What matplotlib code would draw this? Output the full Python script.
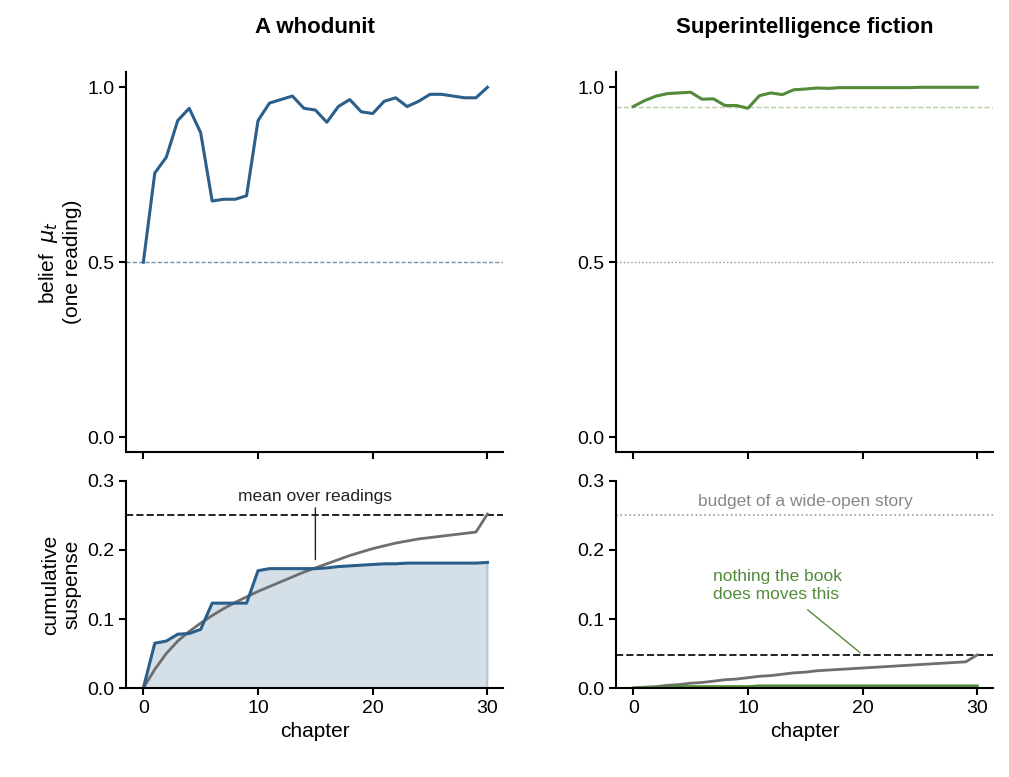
import matplotlib
matplotlib.use("Agg")
import matplotlib.pyplot as plt
import numpy as np

plt.rcParams['font.family'] = ['Liberation Sans', 'DejaVu Sans']
plt.rcParams['mathtext.fontset'] = 'dejavusans'

chapters = np.arange(31)
belief_who = [0.5, 0.755, 0.80, 0.905, 0.94, 0.87, 0.675, 0.68, 0.68, 0.69, 0.905,
              0.955, 0.965, 0.975, 0.94, 0.935, 0.90, 0.945, 0.965, 0.93, 0.925,
              0.96, 0.97, 0.945, 0.96, 0.98, 0.98, 0.975, 0.97, 0.97, 1.0]
belief_sup = [0.945, 0.962, 0.975, 0.982, 0.984, 0.986, 0.966, 0.967, 0.948, 0.948, 0.940,
              0.976, 0.984, 0.979, 0.993, 0.995, 0.998, 0.997, 0.999, 0.999, 0.999,
              0.999, 0.999, 0.999, 0.999, 1.0, 1.0, 1.0, 1.0, 1.0, 1.0]
cum_who = [0, 0.065, 0.068, 0.078, 0.079, 0.085, 0.123, 0.123, 0.123, 0.123, 0.170,
           0.173, 0.173, 0.173, 0.173, 0.173, 0.174, 0.176, 0.177, 0.178, 0.179,
           0.180, 0.180, 0.181, 0.181, 0.181, 0.181, 0.181, 0.181, 0.181, 0.182]
mean_who = [0, 0.027, 0.05, 0.068, 0.082, 0.094, 0.105, 0.115, 0.124, 0.132, 0.140,
            0.147, 0.154, 0.161, 0.168, 0.174, 0.180, 0.186, 0.192, 0.197, 0.202,
            0.206, 0.210, 0.213, 0.216, 0.218, 0.220, 0.222, 0.224, 0.226, 0.252]
cum_sup = [0, 0.001, 0.001, 0.001, 0.002, 0.002, 0.002, 0.002, 0.002, 0.002, 0.002,
           0.003, 0.003, 0.003, 0.003, 0.003, 0.003, 0.003, 0.003, 0.003, 0.003,
           0.003, 0.003, 0.003, 0.003, 0.003, 0.003, 0.003, 0.003, 0.003, 0.003]
mean_sup = [0, 0.001, 0.002, 0.004, 0.005, 0.007, 0.008, 0.010, 0.012, 0.013, 0.015,
            0.017, 0.018, 0.020, 0.022, 0.023, 0.025, 0.026, 0.027, 0.028, 0.029,
            0.030, 0.031, 0.032, 0.033, 0.034, 0.035, 0.036, 0.037, 0.038, 0.048]
prior_sup = 0.945
budget_who = 0.25
budget_sup = 0.048

BLUE = '#2b5f8a'
GREEN = '#548b3b'
GRAY = '#6e6e6e'

fig = plt.figure(figsize=(10.09, 7.77), dpi=100)
L = [0.125, 0.6105]; W = 0.374
axT = [fig.add_axes([l, 0.418, W, 0.489]) for l in L]
axB = [fig.add_axes([l, 0.1145, W, 0.2665]) for l in L]

for ax in axT + axB:
    ax.spines['top'].set_visible(False)
    ax.spines['right'].set_visible(False)
    ax.spines['left'].set_linewidth(1.5)
    ax.spines['bottom'].set_linewidth(1.5)
    ax.tick_params(width=1.5, length=5, labelsize=14)
    ax.set_xlim(-1.5, 31.4)
    ax.set_xticks([0, 10, 20, 30])

for ax in axT:
    ax.set_ylim(-0.043, 1.043)
    ax.set_yticks([0, 0.5, 1.0])
    ax.set_yticklabels(['0.0', '0.5', '1.0'])
    ax.tick_params(labelbottom=False)
for ax in axB:
    ax.set_ylim(0, 0.3)
    ax.set_yticks([0, 0.1, 0.2, 0.3])
    ax.set_yticklabels(['0.0', '0.1', '0.2', '0.3'])
    ax.set_xlabel('chapter', fontsize=15)

# top-left
a = axT[0]
a.axhline(0.5, color='#7a93a8', lw=1, ls=(0, (3, 1.5)))
a.plot(chapters, belief_who, color=BLUE, lw=2.2)
a.set_title('A whodunit', fontsize=16, fontweight='bold', pad=28)
a.set_ylabel('belief  $\\mu_t$\n(one reading)', fontsize=15)

# top-right
a = axT[1]
a.axhline(0.5, color='#999999', lw=1, ls=':')
a.axhline(prior_sup, color='#b5cfa8', lw=1, ls='--')
a.plot(chapters, belief_sup, color=GREEN, lw=2.2)
a.set_title('Superintelligence fiction', fontsize=16, fontweight='bold', pad=28)

# bottom-left
a = axB[0]
a.fill_between(chapters, cum_who, color='#d4dfe7')
a.axvline(30, ymax=cum_who[-1] / 0.3, color='#b0c3d2', lw=1.2)
a.axhline(budget_who, color='#222222', lw=1.4, ls='--')
a.plot(chapters, mean_who, color=GRAY, lw=2)
a.plot(chapters, cum_who, color=BLUE, lw=2.2)
a.annotate('mean over readings', xy=(15, 0.186), xytext=(15, 0.267),
           ha='center', va='bottom', fontsize=12.5, color='#222222',
           arrowprops=dict(arrowstyle='-', color='#222222', lw=1, shrinkA=1, shrinkB=0))
a.set_ylabel('cumulative\nsuspense', fontsize=15)

# bottom-right
a = axB[1]
a.axhline(budget_who, color='#999999', lw=1.2, ls=':')
a.text(15, 0.259, 'budget of a wide-open story', ha='center', va='bottom',
       fontsize=12.5, color='#888888')
a.axhline(budget_sup, color='#222222', lw=1.4, ls='--')
a.plot(chapters, mean_sup, color=GRAY, lw=2)
a.plot(chapters, cum_sup, color=GREEN, lw=2.2)
a.annotate('nothing the book\ndoes moves this', xy=(19.8, 0.051), xytext=(7, 0.125),
           ha='left', va='bottom', fontsize=12.5, color=GREEN,
           arrowprops=dict(arrowstyle='-', color=GREEN, lw=1, shrinkA=6, shrinkB=0))

fig.savefig('out.png', dpi=100)
